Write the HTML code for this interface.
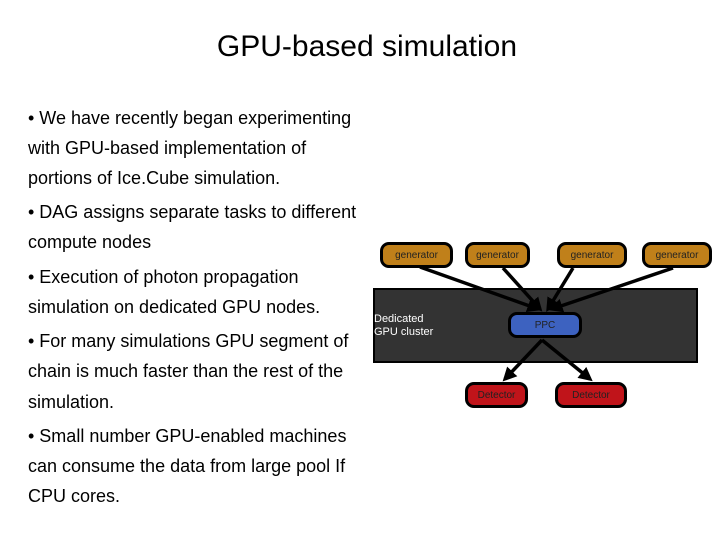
<!DOCTYPE html>
<html><head><style>
body{margin:0;width:720px;height:540px;background:#fff;position:relative;overflow:hidden;font-family:"Liberation Sans",Arial,sans-serif}
.t{position:absolute;left:28px;font-size:18px;line-height:20px;color:#000;white-space:nowrap}
.n{position:absolute;border:3px solid #000;border-radius:9px;box-sizing:border-box;font-size:10px;color:#222;display:flex;align-items:center;justify-content:center}
.g{background:#c0801a}
.d{background:#c0141a}
</style></head><body>
<div style="position:absolute;left:7px;width:720px;top:30px;text-align:center;font-size:30px;line-height:34px">GPU-based simulation</div>
<div class="t" style="top:108px">• We have recently began experimenting</div>
<div class="t" style="top:138px">with GPU-based implementation of</div>
<div class="t" style="top:168px">portions of Ice.Cube simulation.</div>
<div class="t" style="top:202px">• DAG assigns separate tasks to different</div>
<div class="t" style="top:232px">compute nodes</div>
<div class="t" style="top:267px">• Execution of photon propagation</div>
<div class="t" style="top:297px">simulation on dedicated GPU nodes.</div>
<div class="t" style="top:331px">• For many simulations GPU segment of</div>
<div class="t" style="top:361px">chain is much faster than the rest of the</div>
<div class="t" style="top:392px">simulation.</div>
<div class="t" style="top:426px">• Small number GPU-enabled machines</div>
<div class="t" style="top:456px">can consume the data from large pool If</div>
<div class="t" style="top:486px">CPU cores.</div>

<div style="position:absolute;left:373px;top:288px;width:325px;height:75px;background:#333;border:2px solid #000;box-sizing:border-box"></div>
<div style="position:absolute;left:374px;top:313px;font-size:11px;line-height:13px;color:#fff">Dedicated<br>GPU cluster</div>

<svg width="720" height="540" style="position:absolute;left:0;top:0">
<defs><marker id="a" markerWidth="4" markerHeight="4" refX="3" refY="2" orient="auto"><path d="M0,0L4,2L0,4z" fill="#000"/></marker></defs>
<g stroke="#000" stroke-width="3.5" marker-end="url(#a)">
<line x1="420" y1="267" x2="538" y2="309"/>
<line x1="503" y1="268" x2="540" y2="309"/>
<line x1="573" y1="268" x2="548" y2="309"/>
<line x1="673" y1="268" x2="552" y2="309"/>
<line x1="542" y1="340" x2="505" y2="379"/>
<line x1="542" y1="340" x2="590" y2="379"/>
</g>
</svg>
<div class="n g" style="left:380px;top:242px;width:73px;height:26px">generator</div>
<div class="n g" style="left:465px;top:242px;width:65px;height:26px">generator</div>
<div class="n g" style="left:557px;top:242px;width:70px;height:26px">generator</div>
<div class="n g" style="left:642px;top:242px;width:70px;height:26px">generator</div>
<div class="n" style="left:508px;top:312px;width:74px;height:26px;background:#3d62c0">PPC</div>
<div class="n d" style="left:465px;top:382px;width:63px;height:26px">Detector</div>
<div class="n d" style="left:555px;top:382px;width:72px;height:26px">Detector</div>
</body></html>
